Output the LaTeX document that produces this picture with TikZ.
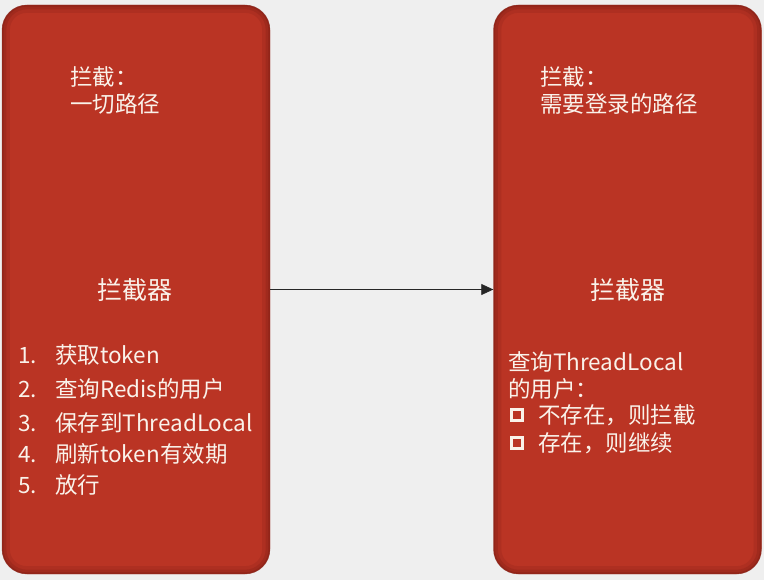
\documentclass[tikz,border=0pt]{standalone}
\usepackage{fontspec}
\setmainfont{Noto Sans CJK SC}
\usetikzlibrary{arrows.meta}
\definecolor{bgcol}{RGB}{239,239,239}
\definecolor{boxred}{RGB}{186,52,36}
\definecolor{boxdark}{RGB}{120,28,20}
\definecolor{txtcol}{RGB}{250,242,234}
\begin{document}
\begin{tikzpicture}[x=1pt,y=-1pt,
  panel/.style={fill=boxred, rounded corners=25pt, minimum width=268pt, minimum height=569pt, inner sep=0pt},
  label/.style={text=txtcol, font=\fontsize{22.5}{27}\selectfont, inner sep=0pt, anchor=west, align=left},
  title/.style={text=txtcol, font=\fontsize{25}{28}\selectfont, inner sep=0pt},
  listitem/.style={text=txtcol, font=\fontsize{22.5}{26}\selectfont, inner sep=0pt, anchor=west},
  sqbox/.style={draw=txtcol, line width=3.4pt, minimum size=11pt, inner sep=0pt},
  conn/.style={-{Triangle[length=12pt,width=11pt]}, line width=0.8pt, black!85}
]
\fill[bgcol] (0,0) rectangle (764,580);
\useasboundingbox (0,0) rectangle (764,580);

% panels
\node[panel] (L) at (136,289.5) {};
\node[panel] (R) at (627.5,289.5) {};
\foreach \p in {L,R}{
  \begin{scope}
    \clip[rounded corners=25pt] (\p.north west) rectangle (\p.south east);
    \draw[boxdark, line width=16pt, opacity=0.18, rounded corners=25pt] (\p.north west) rectangle (\p.south east);
    \draw[boxdark, line width=9pt, opacity=0.25, rounded corners=25pt] (\p.north west) rectangle (\p.south east);
    \draw[boxdark, line width=3.5pt, opacity=0.35, rounded corners=25pt] (\p.north west) rectangle (\p.south east);
  \end{scope}
}

% left panel text
\node[label] (lhead) at (70,90) {拦截：\\一切路径};
\node[title] (ltitle) at (135,290) {拦截器};
\node[listitem] (l1) at (18,355) {\makebox[37pt][l]{1.}获取token};
\node[listitem] (l2) at (18,389) {\makebox[37pt][l]{2.}查询Redis的用户};
\node[listitem] (l3) at (18,423) {\makebox[37pt][l]{3.}保存到ThreadLocal};
\node[listitem] (l4) at (18,454) {\makebox[37pt][l]{4.}刷新token有效期};
\node[listitem] (l5) at (18,485) {\makebox[37pt][l]{5.}放行};

% right panel text
\node[label] (rhead) at (540,90) {拦截：\\需要登录的路径};
\node[title] (rtitle) at (628,290) {拦截器};
\node[listitem] (r1) at (508,362) {查询ThreadLocal};
\node[listitem] (r2) at (508,389) {的用户：};
\node[sqbox] (sq1) at (517,415) {};
\node[listitem] (r3) at (538,415) {不存在，则拦截};
\node[sqbox] (sq2) at (517,443) {};
\node[listitem] (r4) at (538,443) {存在，则继续};

% connector
\draw[conn] (L.east) -- (R.west);
\end{tikzpicture}
\end{document}
